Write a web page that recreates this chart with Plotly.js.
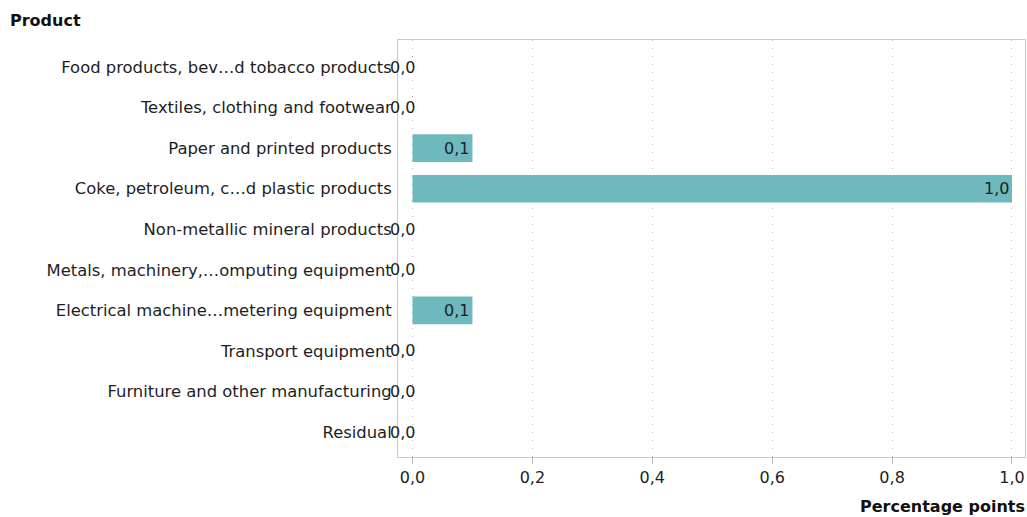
<!DOCTYPE html>
<html>
<head>
<meta charset="utf-8">
<script src="https://cdn.plot.ly/plotly-3.0.1.min.js"></script>
<style>html,body{margin:0;padding:0;background:#fff;}#chart{width:1027px;height:517px;}</style>
</head>
<body>
<div id="chart"></div>
<script>
const categories = [
  "Food products, bev…d tobacco products",
  "Textiles, clothing and footwear",
  "Paper and printed products",
  "Coke, petroleum, c…d plastic products",
  "Non-metallic mineral products",
  "Metals, machinery,…omputing equipment",
  "Electrical machine…metering equipment",
  "Transport equipment",
  "Furniture and other manufacturing",
  "Residual"
];
const values = [0.0, 0.0, 0.1, 1.0, 0.0, 0.0, 0.1, 0.0, 0.0, 0.0];
const xTickVals = [0, 0.2, 0.4, 0.6, 0.8, 1.0];
const xTickText = ["0,0", "0,2", "0,4", "0,6", "0,8", "1,0"];

const FONT = "DejaVu Sans, Verdana, sans-serif";
const FS = 16;
const fmt = v => v.toFixed(1).replace(".", ",");

const trace = {
  type: "bar",
  orientation: "h",
  x: values,
  y: categories,
  width: 0.68,
  marker: {color: "#6eb9be", line: {width: 0}},
  hoverinfo: "x+y"
};

const annotations = values.map((v, i) => ({
  x: v, y: categories[i], xref: "x", yref: "y",
  text: fmt(v), showarrow: false,
  xanchor: "right", yanchor: "middle",
  xshift: v === 0 ? 4 : -1,
  font: {family: FONT, size: FS, color: "#1e1e1e"}
}));

annotations.push({
  text: "<b>Product</b>", xref: "paper", yref: "paper",
  x: (8 - 398) / 627, y: 1 + 20 / 417, xanchor: "left", yanchor: "middle",
  showarrow: false, font: {family: FONT, size: FS, color: "#111"}
});

const layout = {
  width: 1027, height: 517,
  margin: {l: 398, r: 2, t: 40, b: 60},
  paper_bgcolor: "#fff", plot_bgcolor: "#fff",
  showlegend: false,
  font: {family: FONT, size: FS, color: "#1e1e1e"},
  xaxis: {
    range: [-0.0242, 1.0217],
    tickvals: xTickVals, ticktext: xTickText,
    showgrid: true, gridcolor: "#b0b0b0", griddash: "1px,7px", gridwidth: 1,
    zeroline: false,
    showline: true, mirror: true, linecolor: "#c8c8c8", linewidth: 1,
    ticks: "outside", ticklen: 6, tickcolor: "#b8b8b8",
    tickfont: {family: FONT, size: FS, color: "#1e1e1e"},
    title: {text: "<b>Percentage points</b>", font: {family: FONT, size: FS, color: "#111"}, standoff: 8},
    fixedrange: true
  },
  yaxis: {
    type: "category",
    categoryorder: "array", categoryarray: categories,
    range: [9.616, -0.666],
    showgrid: false, zeroline: false,
    showline: true, mirror: true, linecolor: "#c8c8c8", linewidth: 1,
    ticks: "", ticklabelstandoff: 2,
    tickfont: {family: FONT, size: 16.4, color: "#1e1e1e"},
    fixedrange: true
  },
  annotations: annotations
};

Plotly.newPlot("chart", [trace], layout, {displayModeBar: false, staticPlot: true}).then(() => {
  const t = document.querySelector(".xtitle");
  if (t) {
    t.setAttribute("text-anchor", "end");
    t.setAttribute("x", 1025);
    t.setAttribute("y", 512);
  }
});
</script>
</body>
</html>
